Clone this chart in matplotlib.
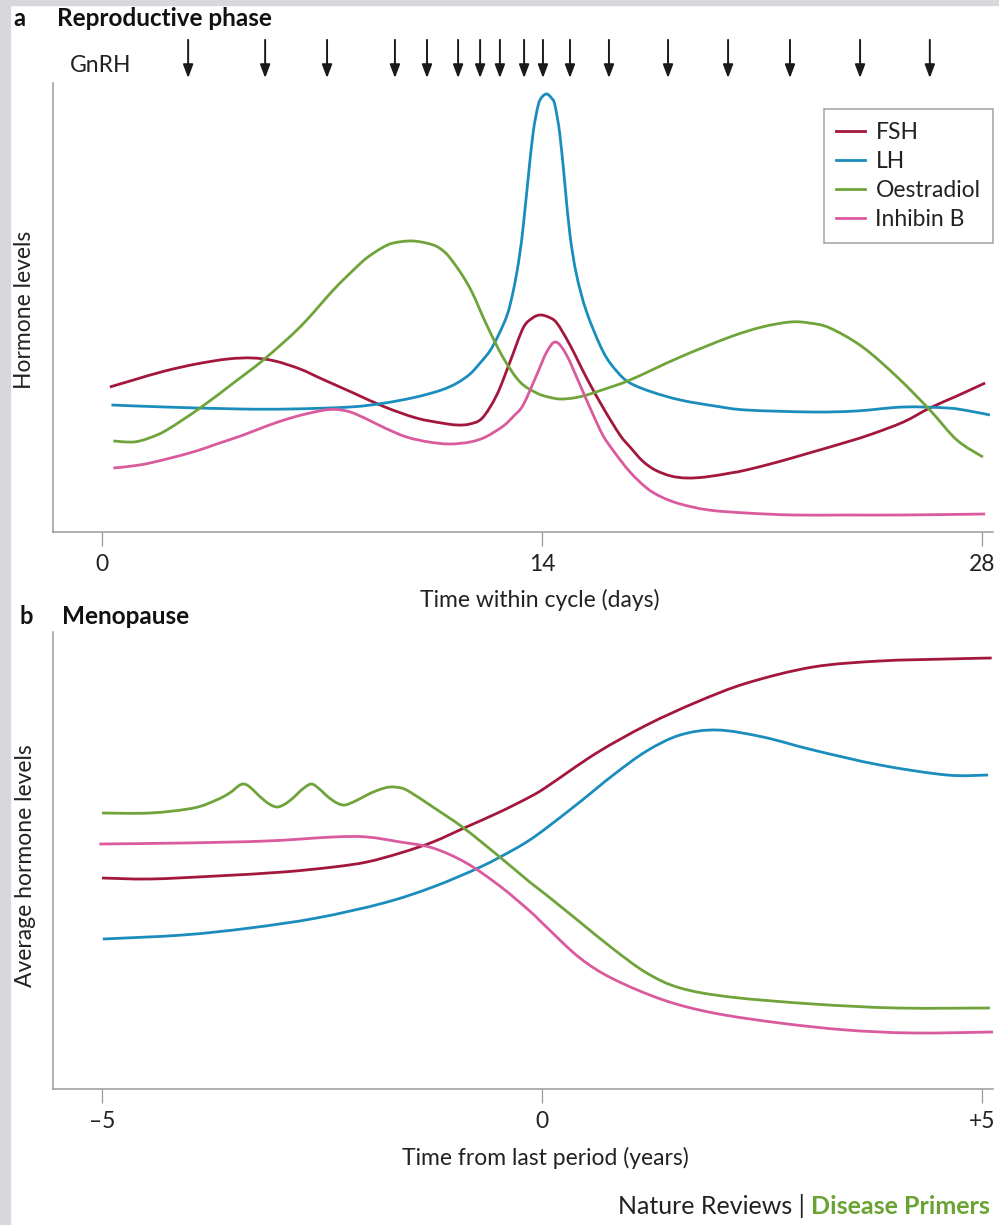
import matplotlib
matplotlib.use("Agg")
from matplotlib import pyplot as plt
from matplotlib.patches import Rectangle, PathPatch
from matplotlib.path import Path
from matplotlib.lines import Line2D

# ---- panel a: reproductive phase (day of cycle, relative level) ----
fsh_day = [0.25, 1.0, 2.0, 3.0, 4.0, 4.8, 5.5, 6.3, 7.0, 8.0, 9.0, 10.0, 10.8, 11.3, 11.7,
           12.1, 12.56, 12.98, 13.4, 13.7, 13.94, 14.2, 14.47, 14.89, 15.42, 15.95, 16.48,
           16.8, 17.2, 17.6, 18.1, 18.6, 19.2, 20.0, 20.5, 21.5, 22.5, 23.7, 24.5, 25.5,
           26.34, 27.2, 28.1]
fsh_lvl = [145, 152, 161, 168, 173, 174, 171, 163, 153, 139, 125, 114, 109, 107, 108,
           114, 137, 170, 204, 214, 217, 215, 209, 187, 154, 124, 97,
           85, 71, 62, 56, 54, 55, 59, 62, 70, 79, 90, 98, 110,
           124, 136, 149]

lh_day = [0.3, 2.0, 4.4, 6.0, 7.9, 9.0, 10.0, 10.8, 11.3, 11.71, 12.03, 12.34, 12.6, 12.88,
          13.05, 13.19, 13.3, 13.4, 13.56, 13.72, 13.88, 14.0, 14.15, 14.3, 14.41, 14.57,
          14.73, 14.89, 15.1, 15.42, 15.95, 16.4, 16.8, 17.5, 18.4, 19.5, 20.5, 22.6, 24.0,
          25.5, 26.9, 27.6, 28.25]
lh_lvl = [127, 125, 123, 123, 125, 129, 135, 142, 149, 158, 169, 181, 196, 216,
          236, 258, 280, 305, 354, 400, 427, 435, 438, 434, 427, 397,
          347, 297, 257, 220, 180, 160, 149, 140, 132, 126, 122, 120, 121,
          125, 124, 121, 117]

oes_day = [0.36, 1.0, 1.5, 2.06, 3.12, 4.18, 5.13, 6.3, 7.36, 8.0, 8.42, 8.9, 9.27, 9.9,
           10.54, 10.9, 11.17, 11.5, 11.8, 12.24, 12.77, 13.3, 13.83, 14.2, 14.57, 15.0,
           15.42, 16.0, 16.8, 18.4, 19.98, 21.0, 21.9, 22.5, 23.16, 24.2, 25.3, 26.34,
           27.2, 28.03]
oes_lvl = [91, 90, 94, 102, 124, 149, 172, 205, 242, 262, 274, 284, 289, 291,
           287, 280, 270, 255, 238, 207, 174, 150, 139, 135, 133, 134,
           137, 143, 152, 175, 195, 205, 210, 209, 204, 185, 155, 122,
           92, 75]

inh_day = [0.36, 1.2, 2.06, 3.0, 3.65, 4.5, 5.24, 6.0, 6.62, 7.1, 7.47, 7.9, 8.42, 9.0,
           9.69, 10.4, 11.07, 11.71, 12.2, 12.77, 13.1, 13.4, 13.83, 14.15, 14.44, 14.78,
           15.21, 15.63, 15.95, 16.3, 16.8, 17.33, 17.8, 18.4, 19.3, 20.5, 22.0, 23.7,
           25.5, 28.1]
inh_lvl = [64, 67, 73, 81, 88, 97, 106, 114, 119, 122, 122.5, 120, 113, 104,
           95, 90, 88, 90, 95, 106, 116, 127, 157, 180, 190, 177,
           147, 117, 96, 80, 60, 44, 35, 28, 22, 19, 17, 17,
           17, 18]

gnrh_days = [2.74, 5.19, 7.16, 9.32, 10.34, 11.33, 12.03, 12.66, 13.43, 14.03, 14.89,
             16.13, 18.01, 19.92, 21.89, 24.12, 26.34]
cycle_ticks = [0, 14, 28]

# ---- panel b: menopause (years from last period, relative level) ----
fsh_b_t = [-5.0, -4.45, -3.7, -2.94, -2.37, -1.99, -1.61, -1.24, -0.86, -0.48, -0.14, 0.05,
           0.62, 1.19, 1.76, 2.33, 3.08, 3.84, 4.6, 5.11]
fsh_b_v = [211, 210, 213, 217, 222, 227, 236, 247, 262, 277, 292, 302,
           336, 364, 387, 406, 422, 428, 430, 431]

lh_b_t = [-4.99, -4.08, -3.32, -2.56, -1.8, -1.24, -0.7, -0.33, -0.14, 0.05, 0.43, 0.81,
          1.19, 1.57, 1.99, 2.51, 3.08, 3.84, 4.6, 5.07]
lh_b_v = [150, 154, 161, 171, 186, 202, 222, 239, 249, 261, 287, 314,
          338, 354, 359, 352, 339, 324, 314, 314]

oes_b_t = [-5.0, -4.45, -3.96, -3.7, -3.55, -3.45, -3.39, -3.32, -3.2, -3.1, -3.01, -2.92,
           -2.83, -2.72, -2.62, -2.53, -2.43, -2.33, -2.24, -2.12, -1.99, -1.86, -1.73,
           -1.6, -1.5, -1.24, -0.89, -0.48, -0.14, 0.05, 0.43, 0.81, 1.19, 1.57, 2.14,
           3.08, 4.03, 5.09]
oes_b_v = [276, 276, 281, 289, 296, 303, 305, 302, 292, 285, 282, 285,
           291, 300, 305, 300, 292, 286, 284, 288, 294, 299, 302,
           301, 297, 282, 261, 232, 207, 194, 167, 140, 116, 101, 92,
           85, 81, 81]

inh_b_t = [-5.03, -4.08, -3.13, -2.37, -1.99, -1.61, -1.24, -0.86, -0.48, -0.14, 0.05, 0.43,
           0.81, 1.38, 1.95, 2.7, 3.46, 4.22, 5.13]
inh_b_v = [245, 246, 248, 252, 252, 247, 241, 226, 203, 178, 162, 131,
           110, 89, 76, 66, 59, 56, 57]

year_ticks = [-5, 0, 5]
year_labels = ["\u20135", "0", "+5"]

names = ["FSH", "LH", "Oestradiol", "Inhibin B"]
colors = ["#a3173d", "#1b8dbd", "#6fa43b", "#da5a9e"]

plt.rcParams["font.family"] = ["Lato", "DejaVu Sans"]
W, H = 999, 1225
fig = plt.figure(figsize=(W / 100, H / 100), dpi=100)
LW = 2.0
TXT = "#222222"


def fx(px):
    return px / W


def fy(py):
    return 1 - py / H


def smooth_line(ax, xs, ys, color):
    # draw the read points as one smooth bezier path (catmull-rom handles)
    pts = list(zip(xs, ys))
    verts = [pts[0]]
    codes = [Path.MOVETO]
    n = len(pts)
    for i in range(n - 1):
        p0 = pts[i - 1] if i > 0 else pts[i]
        p1 = pts[i]
        p2 = pts[i + 1]
        p3 = pts[i + 2] if i + 2 < n else pts[i + 1]
        c1 = (p1[0] + (p2[0] - p0[0]) / 6, p1[1] + (p2[1] - p0[1]) / 6)
        c2 = (p2[0] - (p3[0] - p1[0]) / 6, p2[1] - (p3[1] - p1[1]) / 6)
        verts += [c1, c2, p2]
        codes += [Path.CURVE4] * 3
    ax.add_patch(PathPatch(Path(verts, codes), fill=False, edgecolor=color, lw=LW,
                           capstyle="butt", joinstyle="round"))


# grey page border
fig.add_artist(Rectangle((0, 0), fx(10), 1, transform=fig.transFigure,
                         color="#d7d8db", zorder=0))
fig.add_artist(Rectangle((0, fy(5)), 1, 5 / H, transform=fig.transFigure,
                         color="#d7d8db", zorder=0))

ax1 = fig.add_axes([fx(53), 1 - 532 / H, 940 / W, 449 / H])
ax2 = fig.add_axes([fx(53), 1 - 1089 / H, 940 / W, 457 / H])

for ax in (ax1, ax2):
    for s in ("top", "right"):
        ax.spines[s].set_visible(False)
    for s in ("left", "bottom"):
        ax.spines[s].set_color("#9a9a9a")
        ax.spines[s].set_linewidth(1.1)
    ax.set_yticks([])
    ax.tick_params(axis="x", length=10, width=0.9, color="#9a9a9a", pad=6,
                   labelsize=16.5, labelcolor=TXT)
    ax.set_facecolor("none")

smooth_line(ax1, fsh_day, fsh_lvl, colors[0])
smooth_line(ax1, lh_day, lh_lvl, colors[1])
smooth_line(ax1, oes_day, oes_lvl, colors[2])
smooth_line(ax1, inh_day, inh_lvl, colors[3])
ax1.set_xlim(-1.56, 28.35)
ax1.set_ylim(0, 449)
ax1.set_xticks(cycle_ticks)
ax1.set_xticklabels([str(t) for t in cycle_ticks])

# GnRH pulses
for d in gnrh_days:
    ax1.annotate("", xy=(d, 1.011), xytext=(d, 1.096),
                 xycoords=ax1.get_xaxis_transform(),
                 arrowprops=dict(arrowstyle="-|>,head_length=0.8,head_width=0.3",
                                 color="#1a1a1a", lw=1.4, shrinkA=0, shrinkB=0),
                 annotation_clip=False)
fig.text(fx(101), fy(65), "GnRH", ha="center", va="center", fontsize=16.5, color=TXT)

handles = [Line2D([], [], color=c, lw=LW) for c in colors]
leg = ax1.legend(handles, names, loc="upper right", bbox_to_anchor=(1.0, 0.942),
                 fontsize=16.5, frameon=True, fancybox=False, edgecolor="#8a8a8a",
                 handlelength=1.25, handletextpad=0.45, labelspacing=0.36,
                 borderpad=0.55, borderaxespad=0)
leg.get_frame().set_linewidth(1.1)
for t in leg.get_texts():
    t.set_color(TXT)

smooth_line(ax2, fsh_b_t, fsh_b_v, colors[0])
smooth_line(ax2, lh_b_t, lh_b_v, colors[1])
smooth_line(ax2, oes_b_t, oes_b_v, colors[2])
smooth_line(ax2, inh_b_t, inh_b_v, colors[3])
ax2.set_xlim(-5.557, 5.125)
ax2.set_ylim(0, 457)
ax2.set_xticks(year_ticks)
ax2.set_xticklabels(year_labels)

# titles and axis labels
fig.text(fx(19), fy(18), "a", ha="center", va="center", fontsize=17, weight="bold", color="#111111")
fig.text(fx(57), fy(18), "Reproductive phase", ha="left", va="center", fontsize=17.5,
         weight="bold", color="#111111")
fig.text(fx(26), fy(617), "b", ha="center", va="center", fontsize=17, weight="bold", color="#111111")
fig.text(fx(62), fy(617), "Menopause", ha="left", va="center", fontsize=17.5,
         weight="bold", color="#111111")

fig.text(fx(25), fy(310), "Hormone levels", rotation=90, ha="center", va="center",
         fontsize=16.5, color=TXT)
fig.text(fx(26), fy(866), "Average hormone levels", rotation=90, ha="center", va="center",
         fontsize=16.5, color=TXT)
fig.text(fx(540), fy(600), "Time within cycle (days)", ha="center", va="center",
         fontsize=16.5, color=TXT)
fig.text(fx(545), fy(1158), "Time from last period (years)", ha="center", va="center",
         fontsize=16.5, color=TXT)

# footer
green = fig.text(fx(990), fy(1206), "Disease Primers", ha="right", va="center",
                 fontsize=18, weight="bold", color="#6aa333")
plt.annotate("Nature Reviews | ", xy=(0, 0.5), xycoords=green, ha="right", va="center",
             fontsize=18, color=TXT, annotation_clip=False)

fig.savefig("out.png", dpi=100, facecolor="white")
